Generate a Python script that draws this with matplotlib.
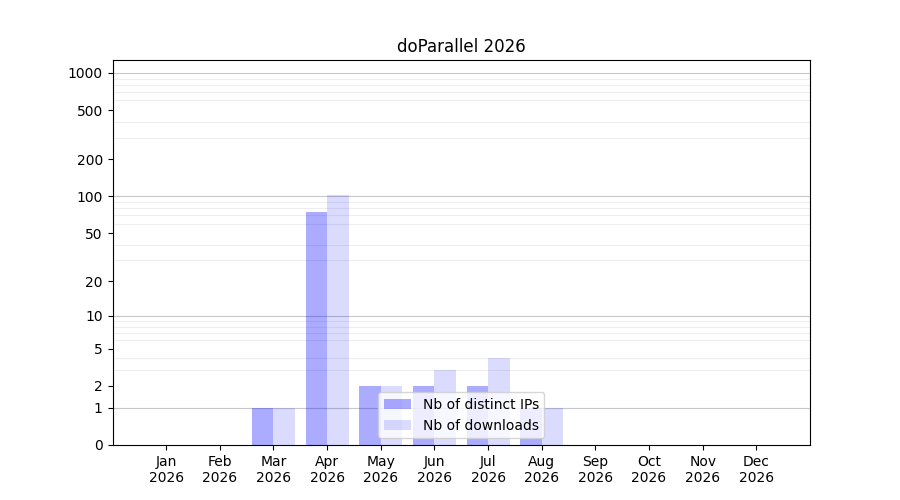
import matplotlib
matplotlib.use("Agg")
import matplotlib.pyplot as plt
import numpy as np

months = ['Jan', 'Feb', 'Mar', 'Apr', 'May', 'Jun',
          'Jul', 'Aug', 'Sep', 'Oct', 'Nov', 'Dec']
year = 2026
distinct_ips = [0, 0, 1, 75, 2, 2, 2, 1, 0, 0, 0, 0]
downloads = [0, 0, 1, 102, 2, 3, 4, 1, 0, 0, 0, 0]
yticks = [0, 1, 2, 5, 10, 20, 50, 100, 200, 500, 1000]


def forward(y):
    return np.log10(np.maximum(y, 0) + 1)


def inverse(y):
    return 10 ** y - 1


fig, ax = plt.subplots(figsize=(9, 5), dpi=100)
ind = np.arange(len(months))
width = 0.4

ax.set_yscale('function', functions=(forward, inverse))

rects1 = ax.bar(ind - width/2, distinct_ips, width, color='blue', alpha=0.33,
                label='Nb of distinct IPs', zorder=2)
rects2 = ax.bar(ind + width/2, downloads, width, color='blue', alpha=0.14,
                label='Nb of downloads', zorder=2)

ax.set_xticks(ind)
ax.set_xticklabels([f'{m}\n{year}' for m in months])
ax.set_xlim(-1, 12)

ax.set_ylim(0, 10 ** 3.105 - 1)
ax.set_yticks(yticks)
ax.set_yticklabels([str(v) for v in yticks])
minor = [m * 10 ** k for k in range(0, 3) for m in range(2, 10)]
ax.set_yticks(minor, minor=True)
ax.tick_params(axis='y', which='minor', length=0)
ax.grid(True, axis='y', which='minor', color='#eeeeee', linewidth=0.8, zorder=0)
for v in [1, 10, 100, 1000]:
    ax.axhline(v, color='#c8c8c8', linewidth=0.8, zorder=1)

ax.set_title(f'doParallel {year}')
ax.legend(loc='lower center')

plt.savefig("out.png")
